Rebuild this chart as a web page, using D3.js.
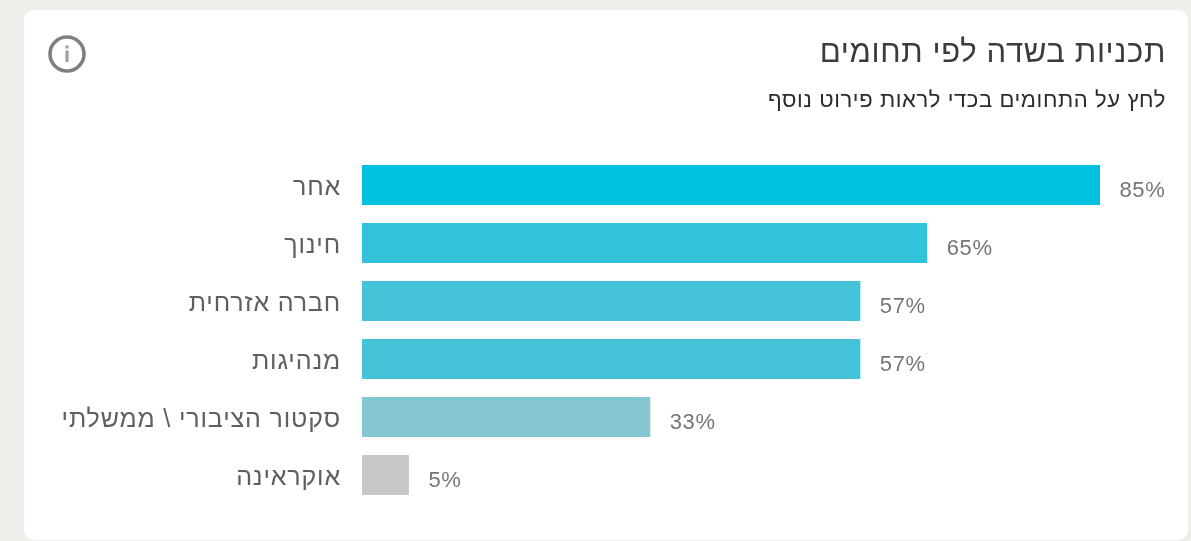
<!DOCTYPE html>
<html lang="he">
<head>
<meta charset="utf-8">
<script src="https://cdn.jsdelivr.net/npm/d3@7/dist/d3.min.js"></script>
<style>
html,body{margin:0;padding:0;background:#efeeea;overflow:hidden}
svg{display:block}
text{font-family:"Liberation Sans","DejaVu Sans",sans-serif}
</style>
</head>
<body>
<svg id="chart" width="1191" height="541"></svg>
<script>
const categories = ["אחר","חינוך","חברה אזרחית","מנהיגות","סקטור הציבורי \\ ממשלתי","אוקראינה"];
const barValues = [85, 65.1, 57.4, 57.4, 33.2, 5.4];
const valueLabels = ["85%","65%","57%","57%","33%","5%"];
const barColors = ["#00c1e0","#31c3da","#45c4d9","#45c4d9","#85c7d0","#c8c8c8"];
const titleText = "תכניות בשדה לפי תחומים";
const subtitleText = "לחץ על התחומים בכדי לראות פירוט נוסף";

const svg = d3.select("#chart");
const soft = svg.append("defs").append("filter").attr("id","soft")
  .attr("x","-5%").attr("y","-5%").attr("width","110%").attr("height","110%");
soft.append("feGaussianBlur").attr("stdDeviation",0.5);

const root = svg.append("g");
root.append("rect").attr("x",24).attr("y",10).attr("width",1164).attr("height",530)
  .attr("rx",10).attr("fill","#ffffff");

const g = root.append("g").attr("filter","url(#soft)");

const x = d3.scaleLinear().domain([0,85]).range([362,1100]);
const y = d3.scaleBand().domain(categories).range([156,504]).paddingInner(18/58).paddingOuter(9/58);

g.selectAll("rect.bar").data(categories).join("rect").attr("class","bar")
  .attr("x",x(0))
  .attr("y",d=>y(d))
  .attr("width",(d,i)=>x(barValues[i])-x(0))
  .attr("height",y.bandwidth())
  .attr("fill",(d,i)=>barColors[i]);

const axis = g.append("g").attr("transform",`translate(${x(0)},1.5)`)
  .call(d3.axisLeft(y).tickSize(0).tickPadding(21));
axis.select(".domain").remove();
axis.selectAll("text").attr("font-size",25).attr("letter-spacing",0.85).attr("fill","#5f5f5f").attr("direction","rtl").attr("text-anchor","start");

g.selectAll("text.val").data(categories).join("text").attr("class","val")
  .attr("x",(d,i)=>x(barValues[i])+19.5)
  .attr("y",d=>y(d)+y.bandwidth()/2+4)
  .attr("dy","0.36em")
  .attr("font-size",22).attr("letter-spacing",0.6).attr("fill","#767676")
  .text((d,i)=>valueLabels[i]);

g.append("text").attr("x",1166).attr("y",62).attr("direction","rtl").attr("text-anchor","start")
  .attr("font-size",31).attr("letter-spacing",0.65).attr("fill","#3a3a3a").text(titleText);
g.append("text").attr("x",1166).attr("y",107).attr("direction","rtl").attr("text-anchor","start")
  .attr("font-size",22).attr("letter-spacing",0.6).attr("fill","#2b2b2b").text(subtitleText);

const info = g.append("g").attr("transform","translate(67,54)");
info.append("circle").attr("r",17).attr("fill","none").attr("stroke","#808080").attr("stroke-width",3.6);
info.append("rect").attr("x",-1.6).attr("y",-8.5).attr("width",3.2).attr("height",3).attr("fill","#a0a0a0");
info.append("rect").attr("x",-1.6).attr("y",-3.5).attr("width",3.2).attr("height",11.5).attr("fill","#a0a0a0");
</script>
</body>
</html>
